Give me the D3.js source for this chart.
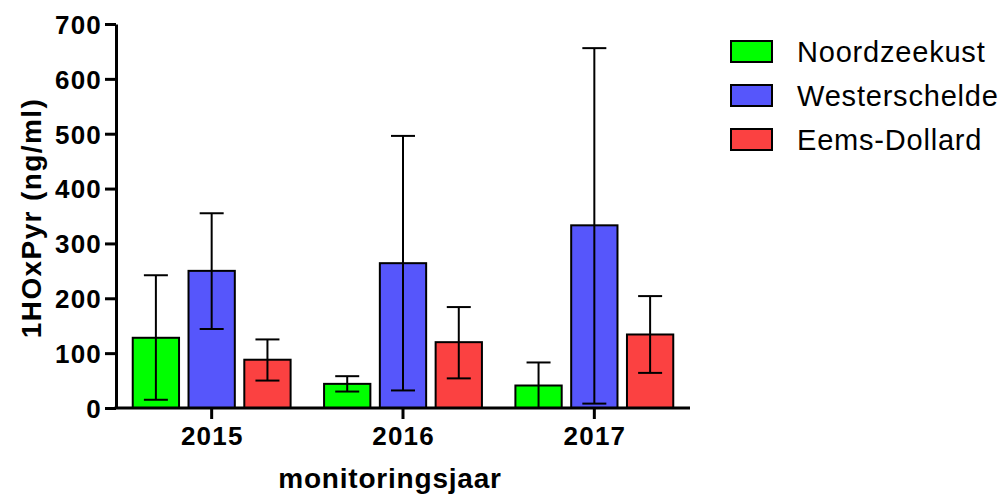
<html><head>
<meta charset="utf-8">
<script src="https://d3js.org/d3.v7.min.js"></script>
<style>
  body { margin: 0; background: #fff; }
  text { font-family: "Liberation Sans", Arial, sans-serif; }
  .axis path, .axis line { stroke: #000; stroke-width: 3px; }
  .axis text { font-size: 26px; font-weight: bold; fill: #000; letter-spacing: 1.2px; }
</style>
</head>
<body>
<svg id="chart" width="1008" height="497"></svg>
<script>
  // data
  const years = ["2015", "2016", "2017"];
  const regions = ["Noordzeekust", "Westerschelde", "Eems-Dollard"];
  const colors = ["#00ff00", "#5656fb", "#fb4141"];
  const means = [
    [128, 250, 88],   // 2015
    [44, 264, 120],   // 2016
    [41, 333, 134]    // 2017
  ];
  const errLow = [
    [15, 144, 50],
    [30, 32, 54],
    [-3, 8, 64]
  ];
  const errHigh = [
    [242, 355, 125],
    [58, 496, 184],
    [83, 656, 204]
  ];
  const yTicks = [0, 100, 200, 300, 400, 500, 600, 700];

  const svg = d3.select("#chart");
  const plotLeft = 116, plotRight = 690, plotTop = 24, plotBottom = 408;

  const y = d3.scaleLinear().domain([0, 700]).range([plotBottom, plotTop]);
  const x0 = d3.scaleBand().domain(years).range([plotLeft, plotRight]);
  const x1 = d3.scaleBand().domain(regions).range([0, x0.bandwidth()])
                .paddingInner(0.17).paddingOuter(0.3);

  // rows of {year, region, value, lo, hi}
  const rows = [];
  years.forEach((yr, i) => {
    regions.forEach((r, j) => {
      rows.push({ year: yr, region: r, idx: j, value: means[i][j], lo: errLow[i][j], hi: errHigh[i][j] });
    });
  });

  const bars = svg.append("g");
  bars.selectAll("rect").data(rows)
    .join("rect")
    .attr("x", d => x0(d.year) + x1(d.region))
    .attr("y", d => y(d.value))
    .attr("width", x1.bandwidth())
    .attr("height", d => y(0) - y(d.value))
    .attr("fill", d => colors[d.idx])
    .attr("stroke", "#000")
    .attr("stroke-width", 2);

  // error bars
  const capW = 24;
  const err = svg.append("g").attr("stroke", "#000").attr("stroke-width", 2);
  rows.forEach(d => {
    const cx = x0(d.year) + x1(d.region) + x1.bandwidth() / 2;
    const lo = Math.max(d.lo, 0);
    err.append("line").attr("x1", cx).attr("x2", cx).attr("y1", y(lo)).attr("y2", y(d.hi));
    err.append("line").attr("x1", cx - capW / 2).attr("x2", cx + capW / 2).attr("y1", y(d.hi)).attr("y2", y(d.hi));
    if (d.lo >= 0) {
      err.append("line").attr("x1", cx - capW / 2).attr("x2", cx + capW / 2).attr("y1", y(lo)).attr("y2", y(lo));
    }
  });

  // axes
  const yAxis = svg.append("g").attr("class", "axis")
    .attr("transform", "translate(" + plotLeft + ",0)")
    .call(d3.axisLeft(y).tickValues(yTicks).tickSize(11).tickSizeOuter(0).tickPadding(3));
  yAxis.selectAll("text").attr("dy", "0.36em");

  const xAxis = svg.append("g").attr("class", "axis")
    .attr("transform", "translate(0," + plotBottom + ")")
    .call(d3.axisBottom(x0).tickSize(11).tickSizeOuter(0).tickPadding(8));
  xAxis.select(".domain").attr("d", "M" + (plotLeft - 1.5) + ",0H" + plotRight);
  xAxis.selectAll("text").attr("dx", "0.6px");

  // titles
  svg.append("text")
    .attr("x", 390).attr("y", 488)
    .attr("text-anchor", "middle")
    .attr("font-size", 28).attr("font-weight", "bold")
    .attr("letter-spacing", 0.8)
    .text("monitoringsjaar");

  svg.append("text")
    .attr("transform", "translate(41,218) rotate(-90)")
    .attr("text-anchor", "middle")
    .attr("font-size", 28).attr("font-weight", "bold")
    .attr("letter-spacing", 1.4)
    .text("1HOxPyr (ng/ml)");

  // legend
  const legend = svg.append("g").attr("transform", "translate(731,41)");
  regions.forEach((r, j) => {
    const g = legend.append("g").attr("transform", "translate(0," + (j * 44) + ")");
    g.append("rect").attr("width", 41).attr("height", 21)
      .attr("fill", colors[j]).attr("stroke", "#000").attr("stroke-width", 2);
    g.append("text").attr("x", 66).attr("y", 20.5)
      .attr("font-size", 29).attr("letter-spacing", 0.8).text(r);
  });
</script>
</body>
</html>
